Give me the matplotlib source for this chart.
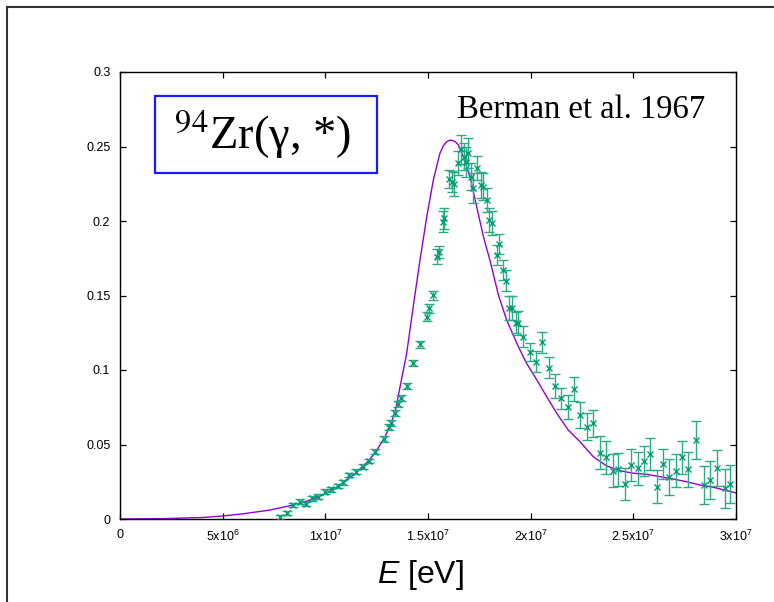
import matplotlib.pyplot as plt
from matplotlib.lines import Line2D
from matplotlib.patches import Rectangle
import numpy as np

plt.rcParams['font.family'] = ['Liberation Sans', 'DejaVu Sans']
plt.rcParams['mathtext.fontset'] = 'custom'
plt.rcParams['mathtext.rm'] = 'Liberation Sans'
plt.rcParams['mathtext.it'] = 'Liberation Sans:italic'

# model curve
curve_E = [0.0, 0.2, 0.4, 0.5, 0.6, 0.73, 0.83, 0.9, 0.97, 1.03, 1.09, 1.15,
           1.21, 1.25, 1.29, 1.32, 1.345, 1.364, 1.396, 1.428, 1.461, 1.494,
           1.526, 1.558, 1.575, 1.591, 1.607, 1.623, 1.636, 1.648, 1.672,
           1.705, 1.737, 1.77, 1.802, 1.843, 1.883, 1.915, 1.94, 1.98, 2.03,
           2.078, 2.127, 2.183, 2.24, 2.305, 2.37, 2.435, 2.5, 2.565, 2.63,
           2.695, 2.76, 2.825, 2.89, 2.95, 3.0]
curve_y = [0, 0.0002, 0.001, 0.002, 0.0035, 0.006, 0.009, 0.0115, 0.015,
           0.019, 0.0245, 0.031, 0.039, 0.046, 0.055, 0.064, 0.075, 0.0888,
           0.111, 0.1425, 0.1738, 0.2029, 0.2275, 0.2454, 0.2505, 0.2532,
           0.2543, 0.2539, 0.2528, 0.251, 0.2432, 0.2297, 0.2096, 0.1895,
           0.1735, 0.1503, 0.1336, 0.1235, 0.1156, 0.1045, 0.0933, 0.0821,
           0.0709, 0.0597, 0.0519, 0.0418, 0.0356, 0.0324, 0.0307, 0.03,
           0.0284, 0.0268, 0.025, 0.0228, 0.0213, 0.0192, 0.0175]

# Berman et al. 1967
data_E = [0.779, 0.812, 0.841, 0.877, 0.904, 0.937, 0.966, 0.998, 1.028,
          1.060, 1.088, 1.115, 1.149, 1.185, 1.213, 1.243, 1.284, 1.310,
          1.321, 1.338, 1.354, 1.367, 1.396, 1.428, 1.461, 1.494, 1.506,
          1.523, 1.542, 1.554, 1.572, 1.579, 1.602, 1.615, 1.628, 1.648,
          1.660, 1.677, 1.683, 1.693, 1.709, 1.718, 1.740, 1.757, 1.770,
          1.786, 1.799, 1.812, 1.835, 1.847, 1.867, 1.880, 1.896, 1.908,
          1.929, 1.940, 1.964, 1.997, 2.026, 2.055, 2.089, 2.118, 2.148,
          2.180, 2.213, 2.242, 2.273, 2.302, 2.338, 2.365, 2.399, 2.427,
          2.459, 2.489, 2.521, 2.552, 2.581, 2.617, 2.646, 2.675, 2.708,
          2.737, 2.765, 2.805, 2.844, 2.873, 2.906, 2.946, 2.971]
data_y = [0.0011, 0.0042, 0.0094, 0.0116, 0.0101, 0.0139, 0.0150, 0.0183,
          0.0199, 0.0221, 0.0246, 0.0295, 0.0318, 0.0351, 0.0391, 0.0452,
          0.0535, 0.0620, 0.0646, 0.0713, 0.0772, 0.0810, 0.0890, 0.1049,
          0.1172, 0.1358, 0.1414, 0.1503, 0.1760, 0.1794, 0.1996, 0.2018,
          0.2280, 0.2264, 0.2246, 0.2387, 0.2480, 0.2432, 0.2398, 0.2454,
          0.2297, 0.2220, 0.2358, 0.2242, 0.2230, 0.2140, 0.2007, 0.1989,
          0.1772, 0.1846, 0.1671, 0.1600, 0.1414, 0.1414, 0.1318, 0.1318,
          0.1224, 0.1123, 0.1056, 0.1186, 0.1016, 0.0895, 0.0810, 0.0750,
          0.0870, 0.0698, 0.0620, 0.0642, 0.0445, 0.0414, 0.0324, 0.0333,
          0.0235, 0.0362, 0.0340, 0.0389, 0.0436, 0.0217, 0.0369, 0.0280,
          0.0324, 0.0414, 0.0333, 0.0530, 0.0228, 0.0262, 0.0340, 0.0206,
          0.0235]
data_err = [0.0015] * 16 + [0.002] * 8 + [
    0.0025, 0.003, 0.003, 0.003, 0.005, 0.004, 0.007, 0.007, 0.006, 0.007,
    0.008, 0.008, 0.010, 0.009, 0.010, 0.010, 0.009, 0.010, 0.008, 0.009,
    0.009, 0.008, 0.008, 0.008, 0.007, 0.007, 0.007, 0.007, 0.008, 0.008,
    0.007, 0.008, 0.007, 0.006, 0.007, 0.007, 0.007, 0.008, 0.007, 0.008,
    0.008, 0.009, 0.009, 0.009, 0.011, 0.011, 0.011, 0.011, 0.011, 0.011,
    0.011, 0.010, 0.011, 0.011, 0.010, 0.012, 0.011, 0.011, 0.012, 0.013,
    0.013, 0.013, 0.012, 0.013, 0.013]

xticks = [0, 0.5, 1.0, 1.5, 2.0, 2.5, 3.0]
xtick_labels = ['0', '5x10$^{6}$', '1x10$^{7}$', '1.5x10$^{7}$',
                '2x10$^{7}$', '2.5x10$^{7}$', '3x10$^{7}$']
yticks = [0, 0.05, 0.1, 0.15, 0.2, 0.25, 0.3]
ytick_labels = ['0', '0.05', '0.1', '0.15', '0.2', '0.25', '0.3']

W, H = 774, 602
fig = plt.figure(figsize=(W / 100, H / 100), dpi=100)
ax = fig.add_axes([120 / W, 1 - 519 / H, 616 / W, 447 / H])

scale = 1e7
ax.plot(np.array(curve_E) * scale, curve_y, color='#9400d3', lw=1.0, zorder=2)
ax.errorbar(np.array(data_E) * scale, data_y, yerr=data_err, fmt='x',
            color='#009e73', ecolor='#2aab85', elinewidth=1.0, capsize=3.8,
            capthick=1.0, markersize=5, mew=1.0, zorder=3)

ax.set_xlim(0, 3e7)
ax.set_ylim(0, 0.3)
ax.set_xticks(np.array(xticks) * scale)
ax.set_xticklabels(xtick_labels)
ax.set_yticks(yticks)
ax.set_yticklabels(ytick_labels)
ax.tick_params(direction='in', top=True, right=True, length=4, width=0.9,
               labelsize=9, pad=7)
for s in ax.spines.values():
    s.set_linewidth(1.0)

fig.text(420 / W, 1 - 583 / H, '$\\it{E}$ [eV]', fontsize=23,
         ha='center', va='baseline')

# label box
fig.add_artist(Rectangle((155 / W, 1 - 173 / H), 222 / W, 77 / H,
                         transform=fig.transFigure, fill=False,
                         edgecolor='#1a1aff', lw=1.6))
fig.text(263 / W, 1 - 134 / H, '$^{94}$Zr(γ, *)', fontsize=33.5,
         family=['Liberation Serif', 'DejaVu Serif'],
         math_fontfamily='stix', ha='center', va='center')
fig.text(457 / W, 1 - 118 / H, 'Berman et al. 1967', fontsize=23.5,
         family=['Liberation Serif', 'DejaVu Serif'], ha='left', va='baseline')

# outer frame
fig.add_artist(Line2D([7 / W, 7 / W], [0, 1 - 7 / H], color='#333333', lw=1.5,
                      transform=fig.transFigure))
fig.add_artist(Line2D([7 / W, 1], [1 - 7 / H, 1 - 7 / H], color='#333333',
                      lw=1.5, transform=fig.transFigure))

fig.savefig('out.png', dpi=100)
